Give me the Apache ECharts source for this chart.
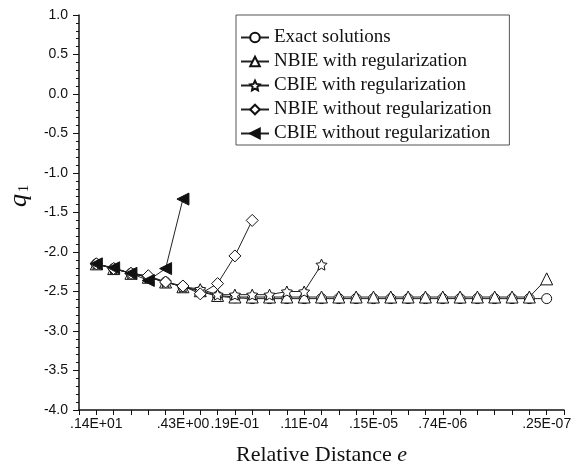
<!DOCTYPE html>
<html>
<head>
<meta charset="utf-8">
<script src="https://cdn.jsdelivr.net/npm/echarts@6/dist/echarts.min.js"></script>
<style>
  html, body { margin: 0; padding: 0; background: #fff; }
  #chart { width: 572px; height: 470px; }
</style>
</head>
<body>
<div id="chart"></div>
<script>
// x 轴类目（两端各留一个空位）
var categories = ['', '.14E+01', '', '', '', '', '.43E+00', '', '', '.19E-01', '', '', '',
  '.11E-04', '', '', '', '.15E-05', '', '', '', '.74E-06', '', '', '', '', '', '.25E-07', ''];

var exactData = [-2.15, -2.21, -2.27, -2.32, -2.38, -2.44, -2.50, -2.56, -2.58,
  -2.59, -2.59, -2.59, -2.59, -2.59, -2.59, -2.59, -2.59, -2.59,
  -2.59, -2.59, -2.59, -2.59, -2.59, -2.59, -2.59, -2.59, -2.59];
var nbieRegData = [-2.15, -2.21, -2.27, -2.32, -2.38, -2.44, -2.49, -2.55,
  -2.57, -2.57, -2.57, -2.57, -2.57, -2.57, -2.57, -2.57, -2.57, -2.57,
  -2.57, -2.57, -2.57, -2.57, -2.57, -2.57, -2.57, -2.57, -2.34];
var cbieRegData = [-2.15, -2.21, -2.27, -2.32, -2.38, -2.44, -2.47, -2.54,
  -2.54, -2.54, -2.54, -2.50, -2.50, -2.16];
var nbieNoRegData = [-2.15, -2.21, -2.27, -2.30, -2.38, -2.43, -2.53, -2.40, -2.05, -1.60];
var cbieNoRegData = [-2.15, -2.20, -2.27, -2.36, -2.21, -1.33];

var yTicks = { min: -4, max: 1, step: 0.5 };

function pad(arr) {
  // 第一个类目是空位
  return [null].concat(arr);
}

function makeSeries(name, data, symbol, size, fill, rotate) {
  return {
    name: name,
    type: 'line',
    data: pad(data),
    symbol: symbol,
    symbolSize: size,
    symbolRotate: rotate || 0,
    showAllSymbol: true,
    connectNulls: false,
    lineStyle: { color: '#222', width: 1 },
    itemStyle: { color: fill, borderColor: '#111', borderWidth: 1 },
    emphasis: { disabled: true },
    animation: false
  };
}

var myChart = echarts.init(document.getElementById('chart'));
var option = {
  backgroundColor: '#fff',
  grid: { left: 79, top: 15, right: 8, bottom: 60, outerBoundsMode: 'none' },
  legend: {
    orient: 'vertical',
    left: 236,
    top: 15,
    padding: [13, 18, 2, 4],
    itemWidth: 28,
    itemHeight: 12,
    itemGap: 5,
    borderColor: '#555',
    borderWidth: 1,
    textStyle: { fontFamily: 'Liberation Serif', fontSize: 19, color: '#111' },
    data: ['Exact solutions', 'NBIE with regularization', 'CBIE with regularization',
      'NBIE without regularization', 'CBIE without regularization']
  },
  xAxis: {
    type: 'category',
    data: categories,
    boundaryGap: false,
    name: 'Relative Distance {e|e}',
    nameLocation: 'middle',
    nameGap: 34,
    nameTextStyle: {
      fontFamily: 'Liberation Serif', fontSize: 22, color: '#111',
      rich: { e: { fontFamily: 'Liberation Serif', fontStyle: 'italic', fontSize: 22, color: '#111' } }
    },
    axisLine: { onZero: false, lineStyle: { color: '#111', width: 1.5 } },
    axisTick: { show: true, interval: 0, length: 5, inside: false, lineStyle: { color: '#111', width: 1 } },
    axisLabel: { interval: 0, margin: 7, fontFamily: 'Liberation Sans', fontSize: 14, color: '#111' },
    splitLine: { show: false }
  },
  yAxis: {
    type: 'value',
    min: yTicks.min,
    max: yTicks.max,
    interval: yTicks.step,
    axisLine: { show: true, onZero: false, lineStyle: { color: '#111', width: 1.5 } },
    axisTick: { show: true, length: 6, lineStyle: { color: '#111', width: 1 } },
    minorTick: { show: true, splitNumber: 5, length: 3, lineStyle: { color: '#111', width: 1 } },
    axisLabel: {
      margin: 11, fontFamily: 'Liberation Sans', fontSize: 14, color: '#111',
      formatter: function (v) { return v.toFixed(1); }
    },
    splitLine: { show: false }
  },
  graphic: [{
    type: 'text',
    left: 6,
    top: 185,
    rotation: Math.PI / 2,
    style: {
      text: '{q|q}{s|1}',
      rich: {
        q: { fontFamily: 'Liberation Serif', fontStyle: 'italic', fontSize: 26, fill: '#111' },
        s: { fontFamily: 'Liberation Serif', fontSize: 14, fill: '#111', padding: [10, 0, 0, 2] }
      }
    }
  }],
  series: [
    makeSeries('Exact solutions', exactData, 'circle', 10, '#fff'),
    makeSeries('NBIE with regularization', nbieRegData, 'triangle', 12, '#fff'),
    makeSeries('CBIE with regularization', cbieRegData, 'path://M0,-10 L2.9,-4 L9.5,-3.1 L4.7,1.5 L5.9,8.1 L0,5 L-5.9,8.1 L-4.7,1.5 L-9.5,-3.1 L-2.9,-4 Z', 11, '#fff'),
    makeSeries('NBIE without regularization', nbieNoRegData, 'diamond', 12, '#fff'),
    makeSeries('CBIE without regularization', cbieNoRegData, 'triangle', 12, '#111', 90)
  ]
};
myChart.setOption(option);
</script>
</body>
</html>
